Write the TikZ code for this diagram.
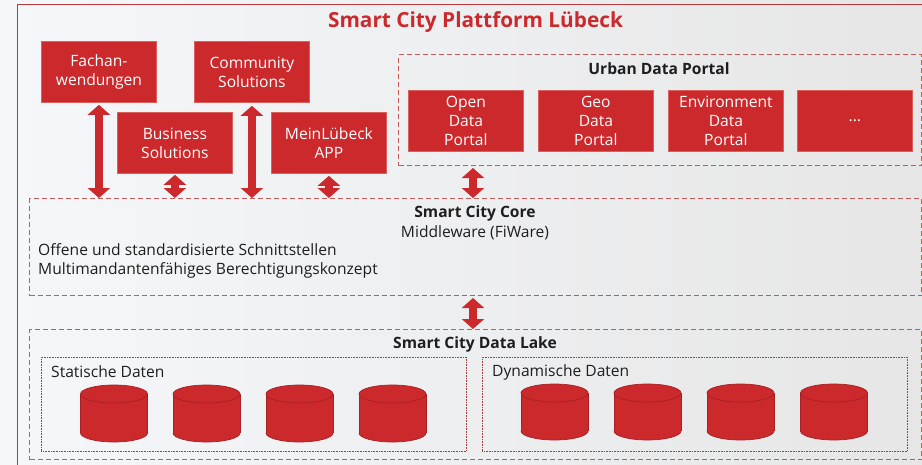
\documentclass[tikz,border=0pt]{standalone}
\usepackage{fontspec}
\setmainfont{Open Sans}
\usetikzlibrary{arrows.meta}
\definecolor{sred}{HTML}{CC292C}
\definecolor{sredline}{HTML}{D9605C}
\definecolor{dashred}{HTML}{C25A5A}
\definecolor{framered}{HTML}{B8393C}
\definecolor{dotred}{HTML}{A83A3A}
\definecolor{cyledge}{HTML}{A82024}
\definecolor{txt}{HTML}{1E1E1E}
\definecolor{bgl}{HTML}{F5F7FA}
\definecolor{bgr}{HTML}{E6E6E6}
% database cylinder: name, centre x, top y, bottom y (y grows downwards)
\newcommand{\dbcyl}[4]{%
  \coordinate (#1) at (#2,{(#3+#4)/2});
  \fill[sred] (#2-33.5,#3+9) rectangle (#2+33.5,#4-9);
  \fill[sred] (#2,#4-9) ellipse[x radius=33.5, y radius=9];
  \begin{scope}
    \clip (#2-35,#4-9) rectangle (#2+35,#4+2);
    \draw[cyledge, line width=0.7pt] (#2,#4-9) ellipse[x radius=33.5, y radius=9];
  \end{scope}
  \draw[cyledge, line width=0.7pt] (#2-33.5,#3+9) -- (#2-33.5,#4-9)
     (#2+33.5,#3+9) -- (#2+33.5,#4-9);
  \filldraw[fill=sred, draw=cyledge, line width=0.7pt] (#2,#3+9) ellipse[x radius=33.5, y radius=9];
}
\begin{document}
\begin{tikzpicture}[x=1pt,y=-1pt,
  redbox/.style={fill=sred, draw=sredline, line width=0.8pt, text=white,
    font=\fontsize{15.6}{19}\selectfont, align=center, inner sep=0pt,
    minimum width=115pt, minimum height=61pt, anchor=north west},
  dashbox/.style={draw=dashred, line width=1pt, dash pattern=on 5pt off 3pt,
    inner sep=0pt, anchor=north west},
  dotbox/.style={draw=dotred, line width=0.8pt, dash pattern=on 0.8pt off 0.8pt,
    inner sep=0pt, anchor=north west},
  bigarrow/.style={line width=8pt, draw=sred,
    {Triangle[length=10pt,width=22pt]}-{Triangle[length=10pt,width=22pt]}},
  lbl/.style={text=txt, font=\fontsize{15.6}{19}\selectfont, inner sep=0pt},
  blbl/.style={text=txt, font=\fontsize{15.6}{19}\selectfont\bfseries, inner sep=0pt}
]
\useasboundingbox (0,0) rectangle (922,464);
\shade[left color=bgl, right color=bgr] (0,0) rectangle (922,464);
% outer frame
\draw[framered, line width=1pt] (17,470) -- (17,4.5) -- (930,4.5);
\node[text=sred, font=\fontsize{20.8}{24}\selectfont\bfseries, inner sep=0pt] (title) at (475.5,22.5) {Smart City Plattform Lübeck};

% application boxes
\node[redbox] (fach) at (41,41) {Fachan-\\wendungen};
\node[redbox] (comm) at (194,41) {Community\\Solutions};
\node[redbox] (bus) at (117,112) {Business\\Solutions};
\node[redbox] (mein) at (271,112) {MeinLübeck\\APP};

% urban data portal
\node[dashbox, minimum width=523pt, minimum height=111pt] (urban) at (398,54) {};
\node[blbl] (urbanlbl) at (659,69) {Urban Data Portal};
\node[redbox] (open) at (408,90) {Open\\Data\\Portal};
\node[redbox] (geo) at (538,90) {Geo\\Data\\Portal};
\node[redbox] (env) at (668,90) {Environment\\Data\\Portal};
\node[redbox] (more) at (797,90) {...};

% core
\node[dashbox, minimum width=892pt, minimum height=97pt] (core) at (29,198) {};
\node[blbl] (corelbl) at (475,213.5) {Smart City Core};
\node[lbl] (mw) at (475,232.5) {Middleware (FiWare)};
\node[lbl, anchor=west, align=left] (ifc) at (38,261) {Offene und standardisierte Schnittstellen\\Multimandantenfähiges Berechtigungskonzept};

% data lake
\node[dashbox, minimum width=892pt, minimum height=130pt] (lake) at (29,329) {};
\node[blbl] (lakelbl) at (475,344.5) {Smart City Data Lake};
\node[dotbox, minimum width=425pt, minimum height=94pt] (stat) at (41,357) {};
\node[dotbox, minimum width=425pt, minimum height=94pt] (dyn) at (482,357) {};
\node[lbl, anchor=west] (statlbl) at (51,372) {Statische Daten};
\node[lbl, anchor=west] (dynlbl) at (492,372) {Dynamische Daten};

\dbcyl{s1}{114}{385}{442}
\dbcyl{s2}{206.5}{385}{442}
\dbcyl{s3}{299.5}{385}{442}
\dbcyl{s4}{392.5}{385}{442}
\dbcyl{d1}{554.5}{384}{440}
\dbcyl{d2}{647.5}{384}{440}
\dbcyl{d3}{740.5}{384}{440}
\dbcyl{d4}{834}{384}{440}

% arrows
\draw[bigarrow] ([yshift=-2pt]fach.south) -- (fach.south |- core.north);
\draw[bigarrow] ([yshift=-3pt]comm.south) -- (comm.south |- core.north);
\draw[bigarrow] ([yshift=-1pt]bus.south) -- (bus.south |- core.north);
\draw[bigarrow] ([yshift=-2pt]mein.south) -- (mein.south |- core.north);
\coordinate (ua) at ([xshift=75pt]urban.south west);
\draw[bigarrow] ([yshift=-2pt]ua) -- (ua |- core.north);
\coordinate (ca) at ([xshift=444pt]core.south west);
\draw[bigarrow] ([yshift=-2pt]ca) -- (ca |- lake.north);
\end{tikzpicture}
\end{document}
